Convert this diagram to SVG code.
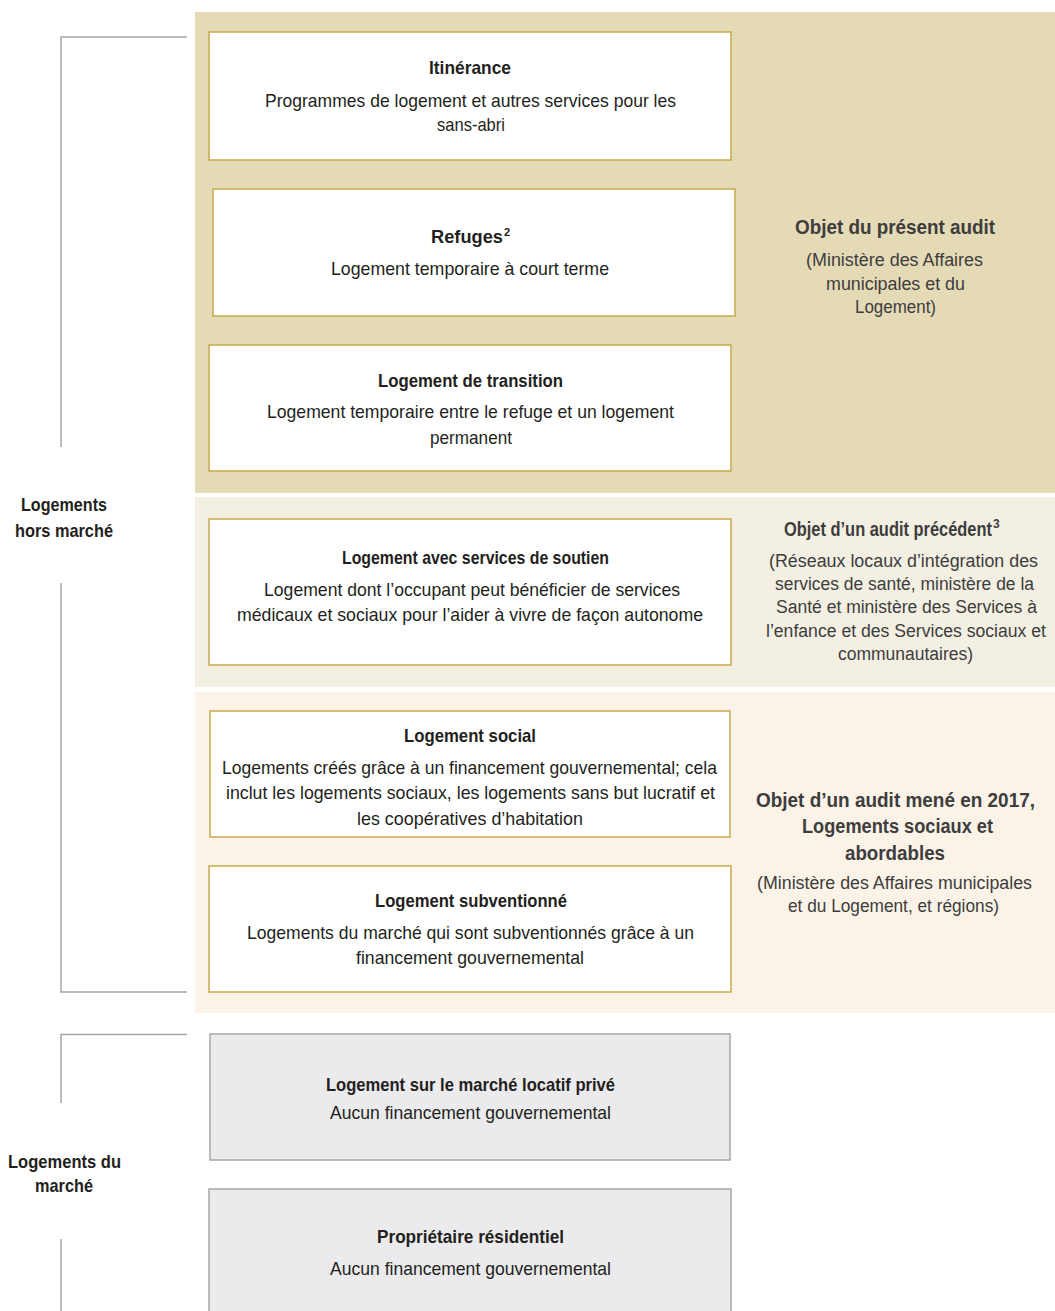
<svg xmlns="http://www.w3.org/2000/svg" width="1055" height="1311" viewBox="0 0 1055 1311">
<style>
text{font-family:"Liberation Sans Narrow","Liberation Sans",Arial,sans-serif;text-anchor:middle}
.t{font-size:19px;font-weight:bold;fill:#231f20}
.b{font-size:19px;fill:#231f20}
.h{font-size:20px;font-weight:bold;fill:#3d3d3d}
.s{font-size:18px;fill:#3d3d3d}
.l{font-size:19px;font-weight:bold;fill:#231f20}
.sup{font-size:11px;text-anchor:start}
.box{fill:#fff;stroke:#c8a94c;stroke-width:1.5}
.gbox{fill:#ebebed;stroke:#a7a7a7;stroke-width:1.5}
.br{fill:none;stroke:#a5a5a5;stroke-width:1.5}
</style>
<g id="bands">
<rect x="195" y="12" width="860" height="481" fill="#e5dab6"/>
<rect x="195" y="497" width="860" height="190" fill="#f3efe2"/>
<rect x="195" y="692" width="860" height="321" fill="#fcf3e8"/>
</g>
<g id="connectors">
<path class="br" d="M187,37 H61 V447 M61,583 V992 H187"/>
<path class="br" d="M187,1034.5 H61 V1103 M61,1239 V1311"/>
</g>
<g id="label-hors-marche">
<text class="l" x="64" y="511" textLength="86" lengthAdjust="spacingAndGlyphs">Logements</text>
<text class="l" x="64" y="537" textLength="98" lengthAdjust="spacingAndGlyphs">hors marché</text>
</g>
<g id="label-marche">
<text class="l" x="64.5" y="1168" textLength="113" lengthAdjust="spacingAndGlyphs">Logements du</text>
<text class="l" x="64" y="1192" textLength="58" lengthAdjust="spacingAndGlyphs">marché</text>
</g>
<g id="itinerance">
<rect class="box" x="209" y="32" width="522" height="128"/>
<text class="t" x="470" y="74" textLength="82" lengthAdjust="spacingAndGlyphs">Itinérance</text>
<text class="b" x="470.5" y="107" textLength="411" lengthAdjust="spacingAndGlyphs">Programmes de logement et autres services pour les</text>
<text class="b" x="471" y="131" textLength="68" lengthAdjust="spacingAndGlyphs">sans-abri</text>
</g>
<g id="refuges">
<rect class="box" x="213" y="189" width="522" height="127"/>
<text class="t" x="467" y="243" textLength="72" lengthAdjust="spacingAndGlyphs">Refuges</text>
<text class="t sup" x="504" y="236">2</text>
<text class="b" x="470" y="275" textLength="278" lengthAdjust="spacingAndGlyphs">Logement temporaire à court terme</text>
</g>
<g id="transition">
<rect class="box" x="209" y="345" width="522" height="126"/>
<text class="t" x="470.5" y="387" textLength="185" lengthAdjust="spacingAndGlyphs">Logement de transition</text>
<text class="b" x="470.5" y="418" textLength="407" lengthAdjust="spacingAndGlyphs">Logement temporaire entre le refuge et un logement</text>
<text class="b" x="471" y="444" textLength="82" lengthAdjust="spacingAndGlyphs">permanent</text>
</g>
<g id="soutien">
<rect class="box" x="209" y="519" width="522" height="146"/>
<text class="t" x="475.5" y="564" textLength="267" lengthAdjust="spacingAndGlyphs">Logement avec services de soutien</text>
<text class="b" x="472" y="596" textLength="416" lengthAdjust="spacingAndGlyphs">Logement dont l’occupant peut bénéficier de services</text>
<text class="b" x="470" y="621" textLength="466" lengthAdjust="spacingAndGlyphs">médicaux et sociaux pour l’aider à vivre de façon autonome</text>
</g>
<g id="social">
<rect class="box" x="210" y="711" width="520" height="126"/>
<text class="t" x="470" y="742" textLength="132" lengthAdjust="spacingAndGlyphs">Logement social</text>
<text class="b" x="469.5" y="774" textLength="495" lengthAdjust="spacingAndGlyphs">Logements créés grâce à un financement gouvernemental; cela</text>
<text class="b" x="470.5" y="799" textLength="489" lengthAdjust="spacingAndGlyphs">inclut les logements sociaux, les logements sans but lucratif et</text>
<text class="b" x="470" y="825" textLength="226" lengthAdjust="spacingAndGlyphs">les coopératives d’habitation</text>
</g>
<g id="subventionne">
<rect class="box" x="209" y="866" width="522" height="126"/>
<text class="t" x="471" y="907" textLength="192" lengthAdjust="spacingAndGlyphs">Logement subventionné</text>
<text class="b" x="470.5" y="939" textLength="447" lengthAdjust="spacingAndGlyphs">Logements du marché qui sont subventionnés grâce à un</text>
<text class="b" x="470" y="964" textLength="228" lengthAdjust="spacingAndGlyphs">financement gouvernemental</text>
</g>
<g id="locatif-prive">
<rect class="gbox" x="210" y="1034" width="520" height="126"/>
<text class="t" x="470.5" y="1091" textLength="289" lengthAdjust="spacingAndGlyphs">Logement sur le marché locatif privé</text>
<text class="b" x="470.5" y="1119" textLength="281" lengthAdjust="spacingAndGlyphs">Aucun financement gouvernemental</text>
</g>
<g id="proprietaire">
<rect class="gbox" x="209" y="1189" width="522" height="130"/>
<text class="t" x="470.5" y="1243" textLength="187" lengthAdjust="spacingAndGlyphs">Propriétaire résidentiel</text>
<text class="b" x="470.5" y="1275" textLength="281" lengthAdjust="spacingAndGlyphs">Aucun financement gouvernemental</text>
</g>
<g id="audit-present">
<text class="h" x="895" y="234" textLength="200" lengthAdjust="spacingAndGlyphs">Objet du présent audit</text>
<text class="s" x="894.5" y="266" textLength="177" lengthAdjust="spacingAndGlyphs">(Ministère des Affaires</text>
<text class="s" x="895.5" y="290" textLength="139" lengthAdjust="spacingAndGlyphs">municipales et du</text>
<text class="s" x="895.5" y="313" textLength="81" lengthAdjust="spacingAndGlyphs">Logement)</text>
</g>
<g id="audit-precedent">
<text class="h" transform="translate(888,536) scale(0.8,1)" x="0" y="0" textLength="260" lengthAdjust="spacingAndGlyphs">Objet d’un audit précédent</text>
<text class="h sup" x="993" y="528" style="font-size:12px">3</text>
<text class="s" x="903.5" y="567" textLength="269" lengthAdjust="spacingAndGlyphs">(Réseaux locaux d’intégration des</text>
<text class="s" x="904.5" y="590" textLength="259" lengthAdjust="spacingAndGlyphs">services de santé, ministère de la</text>
<text class="s" x="906.5" y="613" textLength="261" lengthAdjust="spacingAndGlyphs">Santé et ministère des Services à</text>
<text class="s" x="906" y="637" textLength="280" lengthAdjust="spacingAndGlyphs">l’enfance et des Services sociaux et</text>
<text class="s" x="905.5" y="660" textLength="135" lengthAdjust="spacingAndGlyphs">communautaires)</text>
</g>
<g id="audit-2017">
<text class="h" x="895.5" y="807" textLength="279" lengthAdjust="spacingAndGlyphs">Objet d’un audit mené en 2017,</text>
<text class="h" x="897.5" y="833" textLength="191" lengthAdjust="spacingAndGlyphs">Logements sociaux et</text>
<text class="h" x="895" y="860" textLength="100" lengthAdjust="spacingAndGlyphs">abordables</text>
<text class="s" x="894.5" y="889" textLength="275" lengthAdjust="spacingAndGlyphs">(Ministère des Affaires municipales</text>
<text class="s" x="893.5" y="912" textLength="211" lengthAdjust="spacingAndGlyphs">et du Logement, et régions)</text>
</g>
</svg>
